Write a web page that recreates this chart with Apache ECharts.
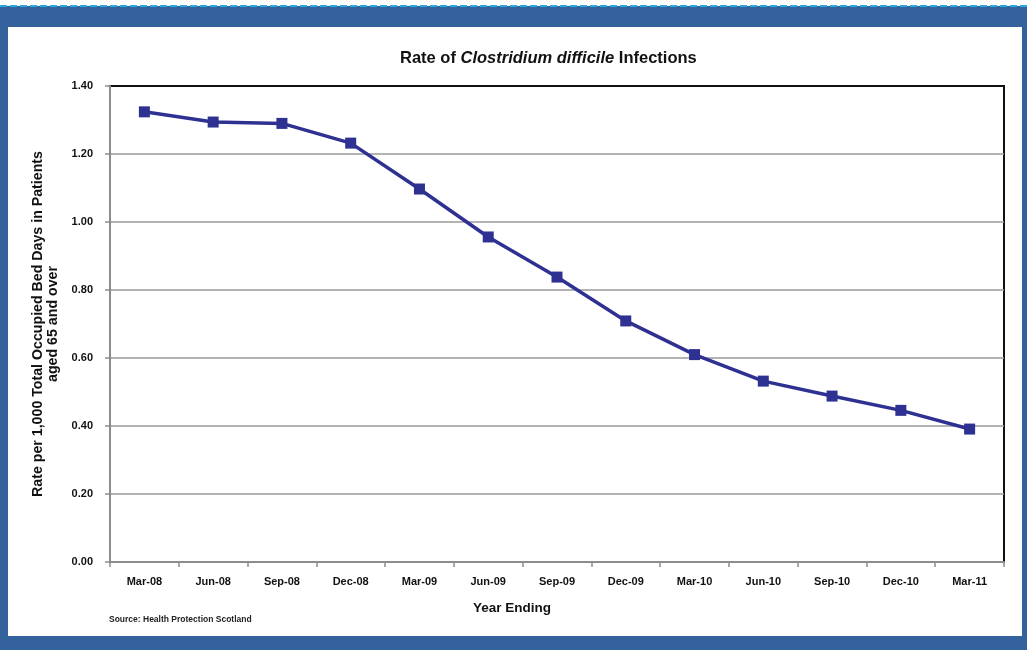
<!DOCTYPE html>
<html>
<head>
<meta charset="utf-8">
<script src="https://cdn.jsdelivr.net/npm/echarts@6/dist/echarts.min.js"></script>
<style>
  html, body { margin: 0; padding: 0; background: #fff; }
  #chart { width: 1027px; height: 650px; }
</style>
</head>
<body>
<div id="chart"></div>
<script>
var quarters = ['Mar-08', 'Jun-08', 'Sep-08', 'Dec-08', 'Mar-09', 'Jun-09', 'Sep-09',
                'Dec-09', 'Mar-10', 'Jun-10', 'Sep-10', 'Dec-10', 'Mar-11'];
var rates = [1.324, 1.294, 1.290, 1.232, 1.097, 0.956, 0.838,
             0.709, 0.610, 0.532, 0.488, 0.446, 0.391];
var yTicks = [0, 0.2, 0.4, 0.6, 0.8, 1.0, 1.2, 1.4];

var font = "'Liberation Sans', Arial, sans-serif";
var frameBlue = '#33629d';
var lineBlue = '#2e3192';

var myChart = echarts.init(document.getElementById('chart'));
var option = {
    animation: false,
    textStyle: { fontFamily: font },
    graphic: [
        { type: 'rect', z: -10, shape: { x: 0, y: 6, width: 1027, height: 644 }, style: { fill: frameBlue } },
        { type: 'rect', z: -9, shape: { x: 8, y: 27, width: 1014, height: 609 }, style: { fill: '#fff' } },
        { type: 'line', z: -8, shape: { x1: 0, y1: 6, x2: 1027, y2: 6 },
          style: { stroke: '#29abe2', lineWidth: 2, lineDash: [7, 3] } },
        { type: 'text', left: 109, top: 615,
          style: { text: 'Source: Health Protection Scotland', font: 'bold 8.5px ' + font, fill: '#222' } }
    ],
    title: {
        text: '{n|Rate of }{i|Clostridium difficile}{n| Infections}',
        left: 395,
        top: 45,
        textStyle: {
            rich: {
                n: { fontSize: 16.5, fontWeight: 'bold', fontFamily: font, color: '#111' },
                i: { fontSize: 16.5, fontWeight: 'bold', fontStyle: 'italic', fontFamily: font, color: '#111' }
            }
        }
    },
    grid: {
        left: 110, right: 23, top: 86, bottom: 88,
        show: true, borderColor: '#111', borderWidth: 2, backgroundColor: 'transparent'
    },
    xAxis: {
        type: 'category',
        data: quarters,
        boundaryGap: true,
        name: 'Year Ending',
        nameLocation: 'middle',
        nameGap: 39,
        nameTextStyle: { fontSize: 13.5, fontWeight: 'bold', color: '#111', fontFamily: font, padding: [0, 90, 0, 0] },
        axisLine: { lineStyle: { color: '#8c8c8c', width: 2 } },
        axisTick: { show: true, alignWithLabel: false, length: 5, lineStyle: { color: '#8c8c8c', width: 1.5 } },
        axisLabel: { fontSize: 11, fontWeight: 'bold', color: '#111', margin: 14, interval: 0 }
    },
    yAxis: {
        type: 'value',
        min: 0,
        max: yTicks[yTicks.length - 1],
        interval: 0.2,
        name: 'Rate per 1,000 Total Occupied Bed Days in Patients\naged 65 and over',
        nameLocation: 'middle',
        nameGap: 48,
        nameTextStyle: { fontSize: 14.2, fontWeight: 'bold', color: '#111', fontFamily: font, lineHeight: 15 },
        axisLine: { show: true, lineStyle: { color: '#8c8c8c', width: 2 } },
        axisTick: { show: true, length: 5, lineStyle: { color: '#8c8c8c', width: 1.5 } },
        axisLabel: {
            fontSize: 11, fontWeight: 'bold', color: '#111', margin: 17,
            formatter: function (v) { return v.toFixed(2); }
        },
        splitLine: { showMaxLine: false, lineStyle: { color: '#9a9a9a', width: 1.5 } }
    },
    series: [
        {
            name: 'Rate',
            type: 'line',
            data: rates,
            symbol: 'rect',
            symbolSize: 11,
            lineStyle: { color: lineBlue, width: 3.5 },
            itemStyle: { color: lineBlue }
        }
    ]
};
myChart.setOption(option);
</script>
</body>
</html>
